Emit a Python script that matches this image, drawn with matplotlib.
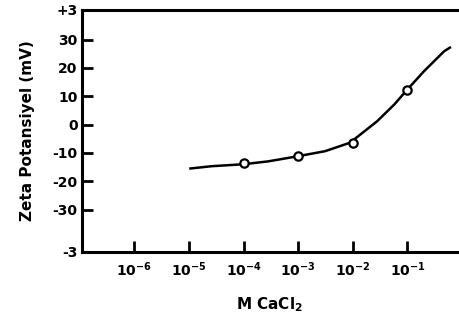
import matplotlib
matplotlib.use('Agg')
import matplotlib.pyplot as plt

# measured points (M CaCl2, zeta potential mV)
conc = [1e-4, 1e-3, 1e-2, 1e-1]
zeta = [-13.5, -11.2, -6.5, 12.4]

# hand-drawn curve
curve_x = [1.07e-5, 2.6e-5, 1e-4, 2.8e-4, 9.1e-4, 3.1e-3, 8.9e-3, 2.8e-2, 5.75e-2, 1e-1, 2e-1, 4.7e-1, 6e-1]
curve_y = [-15.5, -14.7, -14.0, -13.0, -11.3, -9.4, -6.4, 1.2, 7.1, 12.4, 18.8, 25.9, 27.2]

xticks = [1e-6, 1e-5, 1e-4, 1e-3, 1e-2, 1e-1]
xlabels = [r'$\mathbf{10^{-6}}$', r'$\mathbf{10^{-5}}$', r'$\mathbf{10^{-4}}$',
           r'$\mathbf{10^{-3}}$', r'$\mathbf{10^{-2}}$', r'$\mathbf{10^{-1}}$']
yticks = [-45, -30, -20, -10, 0, 10, 20, 30, 40.5]
ylabels = ['-3', '-30', '-20', '-10', '0', '10', '20', '30', '+3']

fig = plt.figure(figsize=(4.6, 3.32), dpi=100)
ax = fig.add_axes([0.178, 0.241, 0.818, 0.729])

ax.plot(curve_x, curve_y, 'k-', linewidth=1.8)
ax.plot(conc, zeta, 'o', color='k', markerfacecolor='white', markersize=6, markeredgewidth=1.6)

ax.set_xscale('log')
ax.set_xlim(1.1e-7, 0.85)
ax.set_ylim(-45, 40.5)
ax.set_xticks(xticks)
ax.set_xticklabels(xlabels, fontsize=10)
ax.minorticks_off()
ax.set_yticks(yticks)
ax.set_yticklabels(ylabels, fontsize=10, fontweight='bold')

ax.spines['right'].set_visible(False)
for s in ['left', 'top', 'bottom']:
    ax.spines[s].set_linewidth(2.2)
ax.tick_params(axis='both', direction='in', width=2, length=8, pad=6)
ax.tick_params(axis='y', pad=3)

ax.set_ylabel('Zeta Potansiyel (mV)', fontsize=11, fontweight='bold', labelpad=13)
ax.set_xlabel('M CaCl$_\\mathbf{2}$', fontsize=11, fontweight='bold', labelpad=12)

fig.savefig('out.png', dpi=100)
